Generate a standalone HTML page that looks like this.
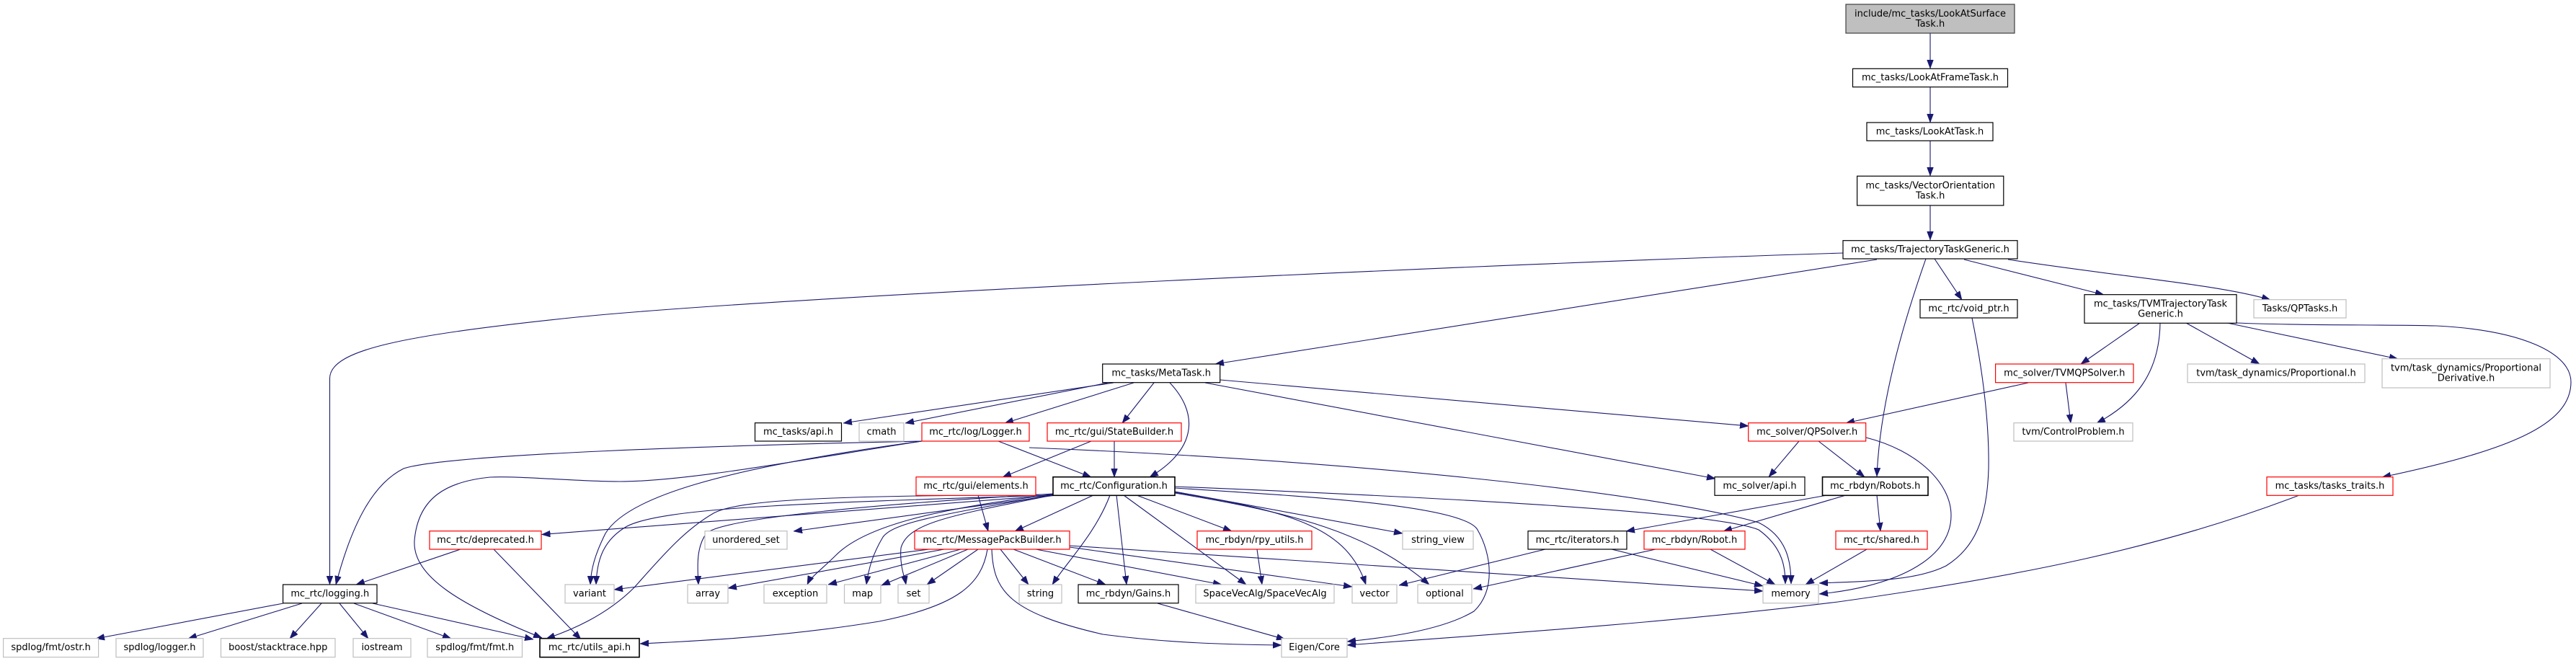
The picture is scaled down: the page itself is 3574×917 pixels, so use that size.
<!DOCTYPE html>
<html><head><meta charset="utf-8"><style>
html,body{margin:0;padding:0;background:#fff;}
svg{display:block;}
text{font-family:"DejaVu Sans","Liberation Sans",sans-serif;font-size:13px;fill:#000;text-anchor:middle;}
.e{fill:none;stroke:#191970;stroke-width:1.1;marker-end:url(#a);}
.n{fill:#fff;stroke:#000;stroke-width:1.2;}
.g{fill:#fff;stroke:#bfbfbf;stroke-width:1.2;}
.r{fill:#fff;stroke:#ff0000;stroke-width:1.2;}
</style></head><body>
<svg width="3574" height="917" viewBox="0 0 3574 917" xmlns="http://www.w3.org/2000/svg">
<defs><marker id="a" viewBox="0 0 12 9" refX="12" refY="4.5" markerWidth="12" markerHeight="9" markerUnits="userSpaceOnUse" orient="auto"><path d="M0,0L12,4.5L0,9z" fill="#191970" stroke="#191970" stroke-width="0.5"/></marker></defs>
<rect width="3574" height="917" fill="#fff"/>

<!-- edges -->
<path class="e" d="M2678,46L2678,95"/>
<path class="e" d="M2678,121L2678,170"/>
<path class="e" d="M2678,195L2678,244"/>
<path class="e" d="M2678,285L2678,333"/>
<!-- TTG -->
<path class="e" d="M2557,351C2100,365 1100,410 800,440C560,465 457.5,485 457.5,525L457.5,811"/>
<path class="e" d="M2604,360L1686,505"/>
<path class="e" d="M2672,359C2640,450 2608,560 2604,661"/>
<path class="e" d="M2684,359L2722,416"/>
<path class="e" d="M2725,360L2919,409"/>
<path class="e" d="M2786,360C2950,385 3080,395 3150,416"/>
<!-- void_ptr -->
<path class="e" d="M2736,441C2752,520 2760,590 2759,650C2757,720 2740,760 2700,785C2660,805 2600,806 2524,809"/>
<!-- TVMTraj -->
<path class="e" d="M2969,448L2887,505"/>
<path class="e" d="M2997,448C2996,520 2960,560 2909,587"/>
<path class="e" d="M3033,448L3135,505"/>
<path class="e" d="M3090,448L3327,498"/>
<path class="e" d="M3103,448C3200,452 3300,450 3380,452C3500,458 3567,490 3567,530C3567,590 3480,625 3305,662"/>
<!-- TVMQPSolver -->
<path class="e" d="M2814,531L2561,587"/>
<path class="e" d="M2866,531L2873,587"/>
<!-- QPSolver -->
<path class="e" d="M2496,612L2454,661.7"/>
<path class="e" d="M2523,612L2587,661.7"/>
<path class="e" d="M2589,607C2660,625 2707,670 2707,715C2707,780 2620,815 2524,824"/>
<!-- MetaTask -->
<path class="e" d="M1545,531L1170,587"/>
<path class="e" d="M1537,531L1256,587"/>
<path class="e" d="M1573,531L1394,587"/>
<path class="e" d="M1601,531L1557,587"/>
<path class="e" d="M1623,531C1660,570 1665,620 1595,662"/>
<path class="e" d="M1693,527L2426,591"/>
<path class="e" d="M1672,531L2380,664"/>
<!-- Logger -->
<path class="e" d="M1385,612L1514,662"/>
<path class="e" d="M1279,612C1000,618 620,630 560,650C520,670 490,720 466,811"/>
<path class="e" d="M1279,612C1100,640 950,668 860,668C800,668 720,660 680,662C620,668 580,690 575,750C572,800 640,840 752,885"/>
<path class="e" d="M1279,612C1000,650 870,690 840,740C825,770 820,790 819,811"/>
<path class="e" d="M1428,621C1900,640 2300,685 2440,725C2480,745 2485,780 2485,810"/>
<!-- StateBuilder -->
<path class="e" d="M1514,612L1391,662"/>
<path class="e" d="M1546,612L1546,662"/>
<!-- gui/elements -->
<path class="e" d="M1357,687L1371,737"/>
<!-- Configuration -->
<path class="e" d="M1517,687L1408,737"/>
<path class="e" d="M1540,687C1520,740 1480,780 1460,811"/>
<path class="e" d="M1549,687L1563,811"/>
<path class="e" d="M1559,687L1729,811"/>
<path class="e" d="M1577,687L1709,737"/>
<path class="e" d="M1465,687L1101,737"/>
<path class="e" d="M1461,685C1200,700 1000,720 980,740C965,760 968,790 969,811"/>
<path class="e" d="M1462,686C1300,705 1200,730 1160,770C1140,790 1125,800 1120,811"/>
<path class="e" d="M1463,686C1300,715 1240,725 1225,745C1210,770 1205,790 1202,811"/>
<path class="e" d="M1465,686C1320,715 1260,725 1250,760C1248,785 1255,800 1257,811"/>
<path class="e" d="M1462,687C1100,698 920,705 870,730C835,750 828,780 827,811"/>
<path class="e" d="M1461,687L751.5,741.5"/>
<path class="e" d="M1462,686C1200,688 1030,690 990,712C950,735 920,770 880,815C840,855 790,875 758,886"/>
<path class="e" d="M1630,675C2000,690 2380,710 2440,735C2475,760 2477,790 2477,810"/>
<path class="e" d="M1630,677C1800,688 2030,700 2050,735C2070,770 2075,820 2045,848C2000,875 1920,885 1869,890"/>
<path class="e" d="M1630,682L1946,740"/>
<path class="e" d="M1630,683C1800,710 1870,735 1895,811"/>
<path class="e" d="M1630,684C1800,712 1900,740 1983,811"/>
<!-- MPB -->
<path class="e" d="M1289,762L852,818"/>
<path class="e" d="M1310,762L1010,816"/>
<path class="e" d="M1333,762L1149,811"/>
<path class="e" d="M1343,762L1223,812"/>
<path class="e" d="M1357,762L1286,811"/>
<path class="e" d="M1370,762C1362,810 1330,840 1220,862C1080,885 950,890 888,893"/>
<path class="e" d="M1388,762L1427,811"/>
<path class="e" d="M1406,762L1534,811"/>
<path class="e" d="M1376,762C1378,820 1400,850 1530,880C1620,892 1700,894 1778,895"/>
<path class="e" d="M1437,762L1695,811"/>
<path class="e" d="M1484,757L2446,820"/>
<path class="e" d="M1484,759L1876,814"/>
<!-- misc -->
<path class="e" d="M1744,762L1751,811"/>
<path class="e" d="M1606,837L1783,887"/>
<path class="e" d="M2144,762L1941,812"/>
<path class="e" d="M2236,762L2446,813"/>
<path class="e" d="M2297,762L2044,817"/>
<path class="e" d="M2373,762L2463,811"/>
<path class="e" d="M2590,762L2505,811"/>
<path class="e" d="M2535,687L2256,737"/>
<path class="e" d="M2561,687L2391,737"/>
<path class="e" d="M2604,687L2609,737"/>
<path class="e" d="M3190,687C3000,760 2800,800 2550,835C2300,866 2000,885 1869,895"/>
<!-- logging -->
<path class="e" d="M393,837L133,886"/>
<path class="e" d="M419,837L261,886"/>
<path class="e" d="M446,837L402,886"/>
<path class="e" d="M471,837L511,886"/>
<path class="e" d="M491,837L626,886"/>
<path class="e" d="M517,837L740,887"/>
<path class="e" d="M639,762L494,811"/>
<path class="e" d="M685,762L806,887"/>

<!-- nodes -->
<rect x="2561" y="6" width="234" height="40" fill="#bfbfbf" stroke="#404040" stroke-width="1.2"/>
<text x="2678" y="23">include/mc_tasks/LookAtSurface</text><text x="2678" y="37">Task.h</text>

<rect class="n" x="2570.5" y="95.3" width="215" height="25.4"/><text x="2678" y="111.6">mc_tasks/LookAtFrameTask.h</text>
<rect class="n" x="2590" y="170" width="175" height="25.3"/><text x="2677.5" y="186.3">mc_tasks/LookAtTask.h</text>
<rect class="n" x="2576.6" y="244.3" width="203.2" height="40.7"/><text x="2678.2" y="261.3">mc_tasks/VectorOrientation</text><text x="2678.2" y="275.3">Task.h</text>
<rect class="n" x="2557" y="333.7" width="242" height="25.3"/><text x="2678" y="350">mc_tasks/TrajectoryTaskGeneric.h</text>

<rect class="n" x="2664" y="415.7" width="135" height="25.3"/><text x="2731.5" y="432">mc_rtc/void_ptr.h</text>
<rect class="n" x="2892" y="408.7" width="211" height="39.6"/><text x="2997.5" y="425.7">mc_tasks/TVMTrajectoryTask</text><text x="2997.5" y="439.7">Generic.h</text>
<rect class="g" x="3127" y="415.7" width="128" height="25.3"/><text x="3191" y="432">Tasks/QPTasks.h</text>

<rect class="n" x="1529.7" y="505" width="163" height="25.7"/><text x="1611.2" y="521.3">mc_tasks/MetaTask.h</text>
<rect class="r" x="2768.6" y="505" width="191.4" height="25.7"/><text x="2864.3" y="521.3">mc_solver/TVMQPSolver.h</text>
<rect class="g" x="3035" y="505" width="246" height="25.7"/><text x="3158" y="521.3">tvm/task_dynamics/Proportional.h</text>
<rect class="g" x="3305" y="497.7" width="233" height="40.3"/><text x="3421.5" y="514.7">tvm/task_dynamics/Proportional</text><text x="3421.5" y="528.7">Derivative.h</text>

<rect class="n" x="1047.5" y="586.7" width="120" height="25.3"/><text x="1107.5" y="603">mc_tasks/api.h</text>
<rect class="g" x="1192" y="586.7" width="62" height="25.3"/><text x="1223" y="603">cmath</text>
<rect class="r" x="1279" y="586.7" width="149" height="25.3"/><text x="1353.5" y="603">mc_rtc/log/Logger.h</text>
<rect class="r" x="1453" y="586.7" width="186" height="25.3"/><text x="1546" y="603">mc_rtc/gui/StateBuilder.h</text>
<rect class="r" x="2425.7" y="586.7" width="163" height="25.3"/><text x="2507.2" y="603">mc_solver/QPSolver.h</text>
<rect class="g" x="2794" y="586.7" width="165" height="25.3"/><text x="2876.5" y="603">tvm/ControlProblem.h</text>

<rect class="r" x="1271" y="661.7" width="166" height="25.6"/><text x="1354" y="678">mc_rtc/gui/elements.h</text>
<rect x="1461" y="661.7" width="169" height="25.6" fill="#fff" stroke="#000" stroke-width="1.6"/><text x="1545.5" y="678">mc_rtc/Configuration.h</text>
<rect class="n" x="2379" y="661.7" width="125" height="25.6"/><text x="2441.5" y="678">mc_solver/api.h</text>
<rect x="2528.5" y="661.7" width="146.5" height="25.6" fill="#fff" stroke="#000" stroke-width="1.6"/><text x="2601.75" y="678">mc_rbdyn/Robots.h</text>
<rect class="r" x="3145" y="661.7" width="175" height="25.6"/><text x="3232.5" y="678">mc_tasks/tasks_traits.h</text>

<rect class="r" x="596" y="736.7" width="155" height="25.3"/><text x="673.5" y="753">mc_rtc/deprecated.h</text>
<rect class="g" x="978" y="736.7" width="114" height="25.3"/><text x="1035" y="753">unordered_set</text>
<rect class="r" x="1269" y="736.7" width="215" height="25.3"/><text x="1376.5" y="753">mc_rtc/MessagePackBuilder.h</text>
<rect class="r" x="1661" y="736.7" width="159" height="25.3"/><text x="1740.5" y="753">mc_rbdyn/rpy_utils.h</text>
<rect class="g" x="1946" y="736.7" width="98" height="25.3"/><text x="1995" y="753">string_view</text>
<rect class="n" x="2120" y="736.7" width="137" height="25.3"/><text x="2188.5" y="753">mc_rtc/iterators.h</text>
<rect class="r" x="2281" y="736.7" width="140" height="25.3"/><text x="2351" y="753">mc_rbdyn/Robot.h</text>
<rect class="r" x="2547" y="736.7" width="127" height="25.3"/><text x="2610.5" y="753">mc_rtc/shared.h</text>

<rect class="n" x="392.6" y="811" width="130.4" height="25.7"/><text x="457.8" y="827.3">mc_rtc/logging.h</text>
<rect class="g" x="784" y="811" width="68" height="25.7"/><text x="818" y="827.3">variant</text>
<rect class="g" x="954" y="811" width="56" height="25.7"/><text x="982" y="827.3">array</text>
<rect class="g" x="1060" y="811" width="87" height="25.7"/><text x="1103.5" y="827.3">exception</text>
<rect class="g" x="1171.5" y="811" width="50.5" height="25.7"/><text x="1196.75" y="827.3">map</text>
<rect class="g" x="1246" y="811" width="43" height="25.7"/><text x="1267.5" y="827.3">set</text>
<rect class="g" x="1414" y="811" width="59" height="25.7"/><text x="1443.5" y="827.3">string</text>
<rect class="n" x="1496" y="811" width="139" height="25.7"/><text x="1565.5" y="827.3">mc_rbdyn/Gains.h</text>
<rect class="g" x="1659" y="811" width="192" height="25.7"/><text x="1755" y="827.3">SpaceVecAlg/SpaceVecAlg</text>
<rect class="g" x="1876" y="811" width="62" height="25.7"/><text x="1907" y="827.3">vector</text>
<rect class="g" x="1967" y="811" width="75" height="25.7"/><text x="2004.5" y="827.3">optional</text>
<rect class="g" x="2446" y="811" width="77" height="25.7"/><text x="2484.5" y="827.3">memory</text>

<rect class="g" x="4.6" y="885.7" width="132" height="26"/><text x="70.6" y="902">spdlog/fmt/ostr.h</text>
<rect class="g" x="161" y="885.7" width="121" height="26"/><text x="221.5" y="902">spdlog/logger.h</text>
<rect class="g" x="306.5" y="885.7" width="158.5" height="26"/><text x="385.75" y="902">boost/stacktrace.hpp</text>
<rect class="g" x="490" y="885.7" width="80" height="26"/><text x="530" y="902">iostream</text>
<rect class="g" x="593" y="885.7" width="131.5" height="26"/><text x="658.75" y="902">spdlog/fmt/fmt.h</text>
<rect x="749" y="885.7" width="138" height="26" fill="#fff" stroke="#000" stroke-width="1.6"/><text x="818" y="902">mc_rtc/utils_api.h</text>
<rect class="g" x="1778" y="885.7" width="91" height="26"/><text x="1823.5" y="902">Eigen/Core</text>
</svg>
</body></html>
